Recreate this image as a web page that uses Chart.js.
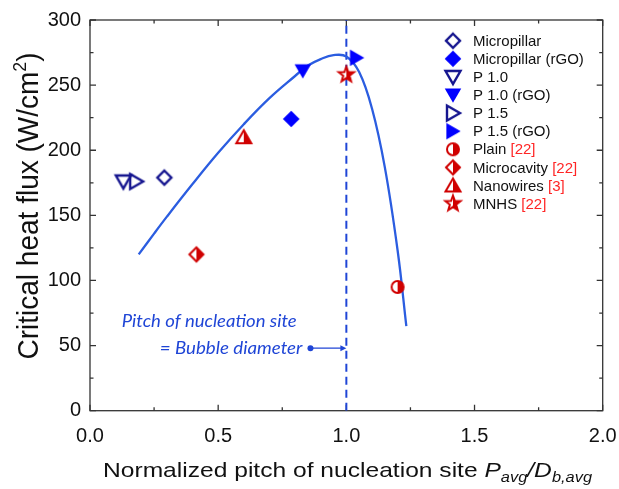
<!DOCTYPE html>
<html>
<head>
<meta charset="utf-8">
<script src="https://cdn.jsdelivr.net/npm/chart.js@4.4.1/dist/chart.umd.min.js"></script>
<style>
  html, body { margin: 0; padding: 0; background: #fff; }
  #wrap { width: 619px; height: 489px; }
</style>
</head>
<body>
<div id="wrap"><canvas id="chf-chart" width="619" height="489"></canvas></div>
<script>
// Series (one point each), in legend order
const seriesNames = ['Micropillar', 'Micropillar (rGO)', 'P 1.0', 'P 1.0 (rGO)', 'P 1.5', 'P 1.5 (rGO)',
    'Plain', 'Microcavity', 'Nanowires', 'MNHS'];
const seriesRefs = ['', '', '', '', '', '', '[22]', '[22]', '[3]', '[22]'];
const pitchValues = [0.29, 0.785, 0.13, 0.83, 0.18, 1.04, 1.2, 0.415, 0.6, 1.0];
const chfValues = [179, 224, 176, 261, 176, 271, 95, 120, 210, 258];

// Fitted trend curve
const fitPitch = [0.19, 0.25, 0.3, 0.4, 0.5, 0.6, 0.7, 0.8, 0.85, 0.9, 0.95, 1.0, 1.05, 1.1, 1.15, 1.2, 1.234];
const fitChf = [120, 136, 149, 174, 198, 220, 240, 257, 265, 270, 273, 272, 260, 232, 187, 123, 65];

// Axis ranges / ticks
const xTickValues = [0, 0.5, 1.0, 1.5, 2.0];
const yTickValues = [0, 50, 100, 150, 200, 250, 300];
const guidePitch = 1.0;
const arrowFrom = 0.86, arrowY = 48;

const NAVY = '#15158f';
const BLUE = '#0000ff';
const RED = '#d00000';
const REF_RED = '#ff2626';
const CURVE = '#2b5de0';
const GUIDE = '#1f45d6';
const AXIS = '#333333';
const FONT = "'Liberation Sans', Arial, sans-serif";

const markerSpec = [
    ['diamond', 'open', NAVY], ['diamond', 'filled', BLUE],
    ['triDown', 'open', NAVY], ['triDown', 'filled', BLUE],
    ['triRight', 'open', NAVY], ['triRight', 'filled', BLUE],
    ['circle', 'half', RED], ['diamond', 'half', RED],
    ['triUp', 'half', RED], ['star', 'half', RED],
];

function shapePath(g, shape, big) {
    g.beginPath();
    const k = big ? 1.1 : 1;
    if (shape === 'diamond') {
        const r = big ? 8.3 : 7;
        g.moveTo(0, -r); g.lineTo(r, 0); g.lineTo(0, r); g.lineTo(-r, 0);
    } else if (shape === 'triDown') {
        g.moveTo(-7.5 * k, -6 * k); g.lineTo(7.5 * k, -6 * k); g.lineTo(0, 7 * k);
    } else if (shape === 'triRight') {
        g.moveTo(-6 * k, -7.5 * k); g.lineTo(7 * k, 0); g.lineTo(-6 * k, 7.5 * k);
    } else if (shape === 'triUp') {
        g.moveTo(0, -7); g.lineTo(7.5, 6); g.lineTo(-7.5, 6);
    } else if (shape === 'circle') {
        g.arc(0, 0, 6, 0, Math.PI * 2);
    } else if (shape === 'star') {
        for (let i = 0; i < 10; i++) {
            const r = i % 2 ? 3.3 : 8;
            const a = -Math.PI / 2 + i * Math.PI / 5;
            if (i === 0) g.moveTo(r * Math.cos(a), r * Math.sin(a));
            else g.lineTo(r * Math.cos(a), r * Math.sin(a));
        }
    }
    g.closePath();
}

function makeMarker(shape, mode, color) {
    const c = document.createElement('canvas');
    c.width = 24; c.height = 24;
    const g = c.getContext('2d');
    g.translate(12, 12);
    g.lineJoin = 'miter';
    if (mode === 'filled') {
        shapePath(g, shape, true);
        g.fillStyle = color; g.fill();
    } else if (mode === 'open') {
        shapePath(g, shape, false);
        g.fillStyle = '#fff'; g.fill();
        g.lineWidth = 2.4; g.strokeStyle = color; g.stroke();
    } else {
        shapePath(g, shape, false);
        g.fillStyle = '#fff'; g.fill();
        g.save();
        shapePath(g, shape, false);
        g.clip();
        g.fillStyle = color; g.fillRect(0, -12, 12, 24);
        g.restore();
        shapePath(g, shape, false);
        g.lineWidth = 2; g.strokeStyle = color; g.stroke();
    }
    return c;
}

const markers = markerSpec.map(s => makeMarker(s[0], s[1], s[2]));

// draw a row of text runs (font/colour/offset), anchored at x with given align
function drawRuns(ctx, runs, x, y, align, stretch) {
    stretch = stretch || 1;
    let total = 0;
    runs.forEach(r => { ctx.font = r.font; r.w = ctx.measureText(r.text).width; total += r.w; });
    ctx.save();
    ctx.translate(x, y);
    ctx.scale(stretch, 1);
    let cx = align === 'center' ? -total / 2 : align === 'right' ? -total : 0;
    ctx.textAlign = 'left';
    runs.forEach(r => {
        ctx.font = r.font;
        ctx.fillStyle = r.color;
        ctx.fillText(r.text, cx, r.dy || 0);
        cx += r.w;
    });
    ctx.restore();
    return total;
}

function runsWidth(ctx, runs) {
    let t = 0;
    runs.forEach(r => { ctx.font = r.font; t += ctx.measureText(r.text).width; });
    return t;
}

const decorPlugin = {
    id: 'decor',
    beforeDatasetsDraw(chart) {
        const { ctx, chartArea: a, scales: { x, y } } = chart;
        ctx.save();
        ctx.strokeStyle = AXIS;
        ctx.lineWidth = 1.3;
        ctx.strokeRect(a.left, a.top, a.right - a.left, a.bottom - a.top);
        // inward ticks on all four sides
        ctx.beginPath();
        for (let v = 0; v <= 2.0001; v += 0.25) {
            const px = x.getPixelForValue(v);
            const len = Math.abs(v / 0.5 - Math.round(v / 0.5)) < 1e-6 ? 6 : 3.5;
            ctx.moveTo(px, a.bottom); ctx.lineTo(px, a.bottom - len);
            ctx.moveTo(px, a.top); ctx.lineTo(px, a.top + len);
        }
        for (let v = 0; v <= 300; v += 25) {
            const py = y.getPixelForValue(v);
            const len = v % 50 === 0 ? 6 : 3.5;
            ctx.moveTo(a.left, py); ctx.lineTo(a.left + len, py);
            ctx.moveTo(a.right, py); ctx.lineTo(a.right - len, py);
        }
        ctx.stroke();
        ctx.restore();
    },
    afterDraw(chart) {
        const { ctx, chartArea: a, scales: { x, y } } = chart;
        ctx.save();
        ctx.textBaseline = 'alphabetic';

        // x title with subscripts
        const s = 21, sub = 14;
        const xRuns = [
            { text: 'Normalized pitch of nucleation site ', font: `${s}px ${FONT}`, color: '#111' },
            { text: 'P', font: `italic ${s}px ${FONT}`, color: '#111' },
            { text: 'avg', font: `italic ${sub}px ${FONT}`, color: '#111', dy: 5 },
            { text: '/D', font: `italic ${s}px ${FONT}`, color: '#111' },
            { text: 'b,avg', font: `italic ${sub}px ${FONT}`, color: '#111', dy: 5 },
        ];
        const xw = runsWidth(ctx, xRuns);
        drawRuns(ctx, xRuns, 347.5, 477, 'center', 489 / xw);

        // y title, rotated
        const ys = 27;
        const yRuns = [
            { text: 'Critical heat flux (W/cm', font: `${ys}px ${FONT}`, color: '#111' },
            { text: '2', font: `${Math.round(ys * 0.62)}px ${FONT}`, color: '#111', dy: -11 },
            { text: ')', font: `${ys}px ${FONT}`, color: '#111' },
        ];
        const yw = runsWidth(ctx, yRuns);
        ctx.save();
        ctx.translate(38, 206);
        ctx.rotate(-Math.PI / 2);
        ctx.scale(307 / yw, 1.1);
        drawRuns(ctx, yRuns, 0, 0, 'center', 1);
        ctx.restore();

        // legend
        const lx = 453, ly0 = 40.7, step = 18.1;
        ctx.textBaseline = 'middle';
        seriesNames.forEach((name, i) => {
            const ly = ly0 + i * step;
            ctx.drawImage(markers[i], lx - 12, ly - 12);
            const runs = [{ text: name, font: `15px ${FONT}`, color: '#111' }];
            if (seriesRefs[i]) runs.push({ text: ' ' + seriesRefs[i], font: `15px ${FONT}`, color: REF_RED });
            drawRuns(ctx, runs, 473, ly + 1, 'left', 1);
        });

        // annotation: dot + arrow to guide line, italic labels
        const ax0 = x.getPixelForValue(arrowFrom);
        const ax1 = x.getPixelForValue(guidePitch);
        const ay = y.getPixelForValue(arrowY);
        ctx.strokeStyle = GUIDE;
        ctx.fillStyle = GUIDE;
        ctx.lineWidth = 1.2;
        ctx.beginPath(); ctx.moveTo(ax0, ay); ctx.lineTo(ax1 - 3, ay); ctx.stroke();
        ctx.beginPath(); ctx.moveTo(ax1, ay); ctx.lineTo(ax1 - 6, ay - 3); ctx.lineTo(ax1 - 6, ay + 3); ctx.closePath(); ctx.fill();
        ctx.beginPath(); ctx.arc(ax0, ay, 3, 0, Math.PI * 2); ctx.fill();

        const aFont = "italic 17px Lato, 'Open Sans', sans-serif";
        const r1 = [{ text: 'Pitch of nucleation site', font: aFont, color: GUIDE }];
        const r2 = [{ text: '= Bubble diameter', font: aFont, color: GUIDE }];
        ctx.textBaseline = 'middle';
        drawRuns(ctx, r1, 121.7, 322, 'left', 175 / runsWidth(ctx, r1));
        drawRuns(ctx, r2, ax0 - 8, ay, 'right', 142.7 / runsWidth(ctx, r2));
        ctx.restore();
    }
};

const pointDatasets = seriesNames.map((name, i) => ({
    label: name,
    data: [{ x: pitchValues[i], y: chfValues[i] }],
    pointStyle: markers[i],
    pointRadius: 8,
    showLine: false,
    order: 1,
}));

new Chart(document.getElementById('chf-chart'), {
    type: 'scatter',
    data: {
        datasets: [
            ...pointDatasets,
            {
                label: 'fit',
                data: fitPitch.map((v, i) => ({ x: v, y: fitChf[i] })),
                showLine: true,
                borderColor: CURVE,
                borderWidth: 2.3,
                pointRadius: 0,
                tension: 0.4,
                order: 5,
            },
            {
                label: 'guide',
                data: [{ x: guidePitch, y: 0 }, { x: guidePitch, y: 300 }],
                showLine: true,
                borderColor: GUIDE,
                borderWidth: 2,
                borderDash: [8, 5],
                pointRadius: 0,
                order: 6,
            },
        ],
    },
    options: {
        responsive: false,
        animation: false,
        devicePixelRatio: 1,
        layout: { padding: { top: 20, right: 16.3, left: 0, bottom: 0 } },
        plugins: { legend: { display: false }, tooltip: { enabled: false } },
        scales: {
            x: {
                type: 'linear', min: 0, max: 2,
                afterBuildTicks: sc => { sc.ticks = xTickValues.map(v => ({ value: v })); },
                afterFit: sc => { sc.height = 78.3; sc.paddingLeft = 0; sc.paddingRight = 0; },
                grid: { display: false, drawTicks: false },
                border: { display: false },
                ticks: {
                    padding: 14,
                    color: '#111',
                    font: { family: FONT, size: 20 },
                    callback: v => v.toFixed(1),
                },
            },
            y: {
                type: 'linear', min: 0, max: 300,
                afterBuildTicks: sc => { sc.ticks = yTickValues.map(v => ({ value: v })); },
                afterFit: sc => { sc.width = 90; sc.paddingTop = 0; sc.paddingBottom = 0; },
                grid: { display: false, drawTicks: false },
                border: { display: false },
                ticks: {
                    padding: 9,
                    color: '#111',
                    font: { family: FONT, size: 20 },
                },
            },
        },
    },
    plugins: [decorPlugin],
});
</script>
</body>
</html>
